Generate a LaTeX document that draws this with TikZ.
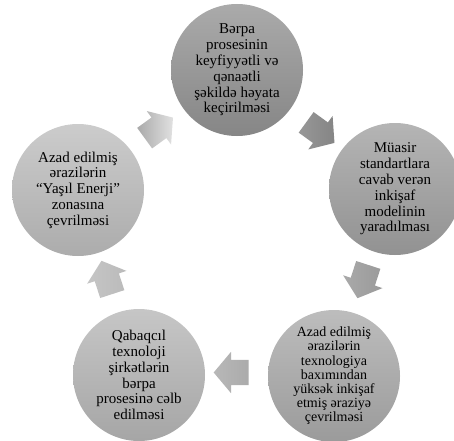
\documentclass[tikz,border=0pt]{standalone}
\usepackage{fontspec}
\setmainfont{Liberation Serif}
\usetikzlibrary{shapes.arrows,calc}
\definecolor{stageA}{HTML}{959595}
\definecolor{stageB}{HTML}{A2A2A2}
\definecolor{stageC}{HTML}{ACACAC}
\definecolor{stageD}{HTML}{B8B8B8}
\definecolor{stageE}{HTML}{BFBFBF}
\definecolor{flowA}{HTML}{858585}
\definecolor{flowB}{HTML}{9A9A9A}
\definecolor{flowC}{HTML}{ABABAB}
\definecolor{flowD}{HTML}{BBBBBB}
\definecolor{flowE}{HTML}{D4D4D4}
\begin{document}
\begin{tikzpicture}[x=1pt,y=1pt,
    stage/.style={circle,minimum size=132pt,inner sep=0pt,align=center,
      font=\fontsize{15}{15.8}\selectfont},
    flow/.style={single arrow,minimum height=35pt,
      single arrow head extend=8pt,single arrow tip angle=100,
      single arrow head indent=0pt,inner xsep=0pt,inner ysep=12.5pt}]
  \useasboundingbox (0,0) rectangle (454,440);
  \clip (0,0) rectangle (454,440);
  % stages of the cycle
  \node[stage,top color=stageA!80!white,bottom color=stageA!90!black] (renew) at (237,370)
    {Bərpa\\prosesinin\\keyfiyyətli və\\qənaətli\\şəkildə həyata\\keçirilməsi};
  \node[stage,top color=stageB!80!white,bottom color=stageB!90!black] (model) at (395,251)
    {Müasir\\standartlara\\cavab verən\\inkişaf\\modelinin\\yaradılması};
  \node[stage,top color=stageC!80!white,bottom color=stageC!90!black,
    font=\fontsize{14}{14.2}\selectfont] (tech) at (334,64)
    {Azad edilmiş\\ərazilərin\\texnologiya\\baxımından\\yüksək inkişaf\\etmiş əraziyə\\çevrilməsi};
  \node[stage,top color=stageD!80!white,bottom color=stageD!90!black] (firms) at (139,65)
    {Qabaqcıl\\texnoloji\\şirkətlərin\\bərpa\\prosesinə cəlb\\edilməsi};
  \node[stage,top color=stageE!80!white,bottom color=stageE!90!black] (green) at (78,250)
    {Azad edilmiş\\ərazilərin\\“Yaşıl Enerji”\\zonasına\\çevrilməsi};
  % arrows between stages
  \node[flow,left color=flowA!85!white,right color=flowA,rotate=-36] (f1) at ($(renew)!0.5!(model)$) {};
  \node[flow,left color=flowB!85!white,right color=flowB,rotate=-108] (f2) at ($(model)!0.5!(tech)+(0,6)$) {};
  \node[flow,left color=flowC!85!white,right color=flowC,rotate=180] (f3) at ($(tech)!0.5!(firms)+(0,3)$) {};
  \node[flow,left color=flowD!85!white,right color=flowD,rotate=108] (f4) at ($(firms)!0.5!(green)$) {};
  \node[flow,left color=flowE!80!black,right color=flowE!70!white,rotate=36] (f5) at ($(green)!0.5!(renew)+(-3,-1)$) {};
\end{tikzpicture}
\end{document}
